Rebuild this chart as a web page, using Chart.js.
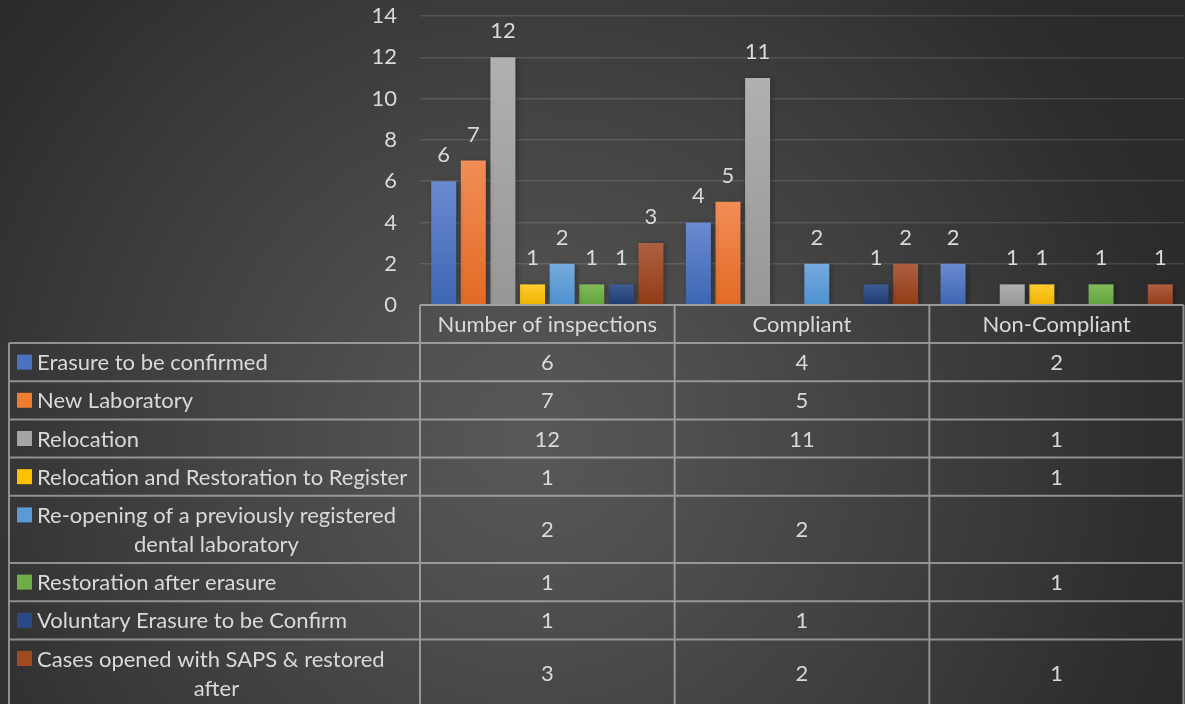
<!DOCTYPE html>
<html>
<head>
<meta charset="utf-8">
<script src="https://cdn.jsdelivr.net/npm/chart.js@4.4.1/dist/chart.umd.min.js"></script>
<style>
html,body{margin:0;padding:0;background:#2b2b2b;overflow:hidden}
#wrap{position:relative;width:1185px;height:704px}
canvas{display:block}
</style>
</head>
<body>
<div id="wrap"><canvas id="c" width="1185" height="704"></canvas></div>
<script>
// ---------- DATA ----------
const categories = ['Number of inspections', 'Compliant', 'Non-Compliant'];

const seriesNames = [
  ['Erasure to be confirmed'],
  ['New Laboratory'],
  ['Relocation'],
  ['Relocation and Restoration to Register'],
  ['Re-opening of a previously registered', 'dental laboratory'],
  ['Restoration after erasure'],
  ['Voluntary Erasure to be Confirm'],
  ['Cases opened with SAPS & restored', 'after']
];

const erasureToBeConfirmed      = [6, 4, 2];
const newLaboratory             = [7, 5, null];
const relocation                = [12, 11, 1];
const relocationAndRestoration  = [1, null, 1];
const reopeningPreviouslyReg    = [2, 2, null];
const restorationAfterErasure   = [1, null, 1];
const voluntaryErasure          = [1, 1, null];
const casesOpenedWithSAPS       = [3, 2, 1];

const seriesValues = [
  erasureToBeConfirmed, newLaboratory, relocation, relocationAndRestoration,
  reopeningPreviouslyReg, restorationAfterErasure, voluntaryErasure, casesOpenedWithSAPS
];

const yMin = 0, yMax = 14, yStep = 2;

// ---------- STYLE ----------
const FONT = 'Lato, "Open Sans", "Noto Sans", sans-serif';
const FS = 22;
const TEXT = '#d9d9d9';
const barColors = [ // [top, bottom, key]
  ['#6a8ad0', '#3e66b3', '#4a72c0'],
  ['#f28d56', '#e36a25', '#ed7d31'],
  ['#b0b0b0', '#979797', '#a5a5a5'],
  ['#ffcd30', '#f0b400', '#ffc000'],
  ['#76abdd', '#4e91cf', '#5b9bd5'],
  ['#82bb5c', '#61a33c', '#70ad47'],
  ['#3e5c94', '#1e3b72', '#2a4a86'],
  ['#ad6041', '#923c16', '#a24a22']
];

Chart.defaults.font.family = FONT;

const bgPlugin = {
  id: 'bg',
  beforeDraw(chart) {
    const ctx = chart.ctx, W = chart.width, H = chart.height;
    ctx.save();
    const g = ctx.createRadialGradient(530, 440, 0, 530, 440, 720);
    g.addColorStop(0, '#585858');
    g.addColorStop(0.2, '#505050');
    g.addColorStop(0.5, '#414141');
    g.addColorStop(0.68, '#383838');
    g.addColorStop(0.88, '#2d2d2d');
    g.addColorStop(1, '#2a2a2a');
    ctx.fillStyle = g;
    ctx.fillRect(0, 0, W, H);
    ctx.restore();
  }
};

const shadowPlugin = {
  id: 'barShadow',
  beforeDatasetDraw(chart) {
    const ctx = chart.ctx;
    ctx.save();
    ctx.shadowColor = 'rgba(0,0,0,0.35)';
    ctx.shadowBlur = 6;
    ctx.shadowOffsetX = 2;
    ctx.shadowOffsetY = 1;
  },
  afterDatasetDraw(chart) {
    chart.ctx.restore();
  }
};

const valueLabelPlugin = {
  id: 'valueLabels',
  afterDatasetsDraw(chart) {
    const ctx = chart.ctx;
    ctx.save();
    ctx.font = FS + 'px ' + FONT;
    ctx.fillStyle = TEXT;
    ctx.textAlign = 'center';
    ctx.textBaseline = 'alphabetic';
    chart.data.datasets.forEach((ds, di) => {
      const meta = chart.getDatasetMeta(di);
      meta.data.forEach((el, i) => {
        const v = ds.data[i];
        if (v === null || v === undefined) return;
        ctx.fillText(String(v), el.x, el.y - 19);
      });
    });
    ctx.restore();
  }
};

const tablePlugin = {
  id: 'dataTable',
  afterDraw(chart) {
    const ctx = chart.ctx;
    const xs = chart.scales.x;
    const area = chart.chartArea;
    const n = categories.length;
    const colW = (area.right - area.left) / n;
    const bounds = [];
    for (let i = 0; i < n; i++) bounds.push(xs.getPixelForValue(i) - colW / 2);
    bounds.push(xs.getPixelForValue(n - 1) + colW / 2);
    const tableLeft = 9;
    const right = bounds[n] - 0.5;
    const top = area.bottom;
    const headerH = 38;
    const lineH = 29;
    const rowH = seriesNames.map(l => 38.2 + (l.length - 1) * lineH);
    const rowTops = [];
    let y = top + headerH;
    rowH.forEach(h => { rowTops.push(y); y += h; });
    const bottom = y;

    ctx.save();
    ctx.font = FS + 'px ' + FONT;
    ctx.fillStyle = TEXT;
    ctx.textBaseline = 'middle';

    ctx.textAlign = 'center';
    categories.forEach((c, i) => {
      ctx.fillText(c, (bounds[i] + bounds[i + 1]) / 2, top + headerH / 2 + 1);
    });

    seriesNames.forEach((lines, r) => {
      const rt = rowTops[r], h = rowH[r];
      const firstY = rt + h / 2 - (lines.length - 1) * lineH / 2;
      ctx.fillStyle = barColors[r][2];
      ctx.fillRect(17, firstY - 7.5, 15, 15);
      ctx.fillStyle = TEXT;
      lines.forEach((t, k) => {
        if (k === 0) { ctx.textAlign = 'left'; ctx.fillText(t, 37, firstY + 1); }
        else { ctx.textAlign = 'center'; ctx.fillText(t, (tableLeft + bounds[0]) / 2 + 2, firstY + k * lineH + 1); }
      });
      ctx.textAlign = 'center';
      seriesValues[r].forEach((v, i) => {
        if (v === null || v === undefined) return;
        ctx.fillText(String(v), (bounds[i] + bounds[i + 1]) / 2, rt + h / 2 + 1);
      });
    });

    ctx.strokeStyle = 'rgba(200,200,200,0.62)';
    ctx.lineWidth = 2;
    ctx.beginPath();
    ctx.moveTo(bounds[0], top); ctx.lineTo(right, top);
    rowTops.forEach(t => { ctx.moveTo(tableLeft, t); ctx.lineTo(right, t); });
    ctx.moveTo(tableLeft, bottom); ctx.lineTo(right, bottom);
    ctx.moveTo(tableLeft, rowTops[0]); ctx.lineTo(tableLeft, bottom);
    bounds.forEach((b, i) => {
      const bx = i === n ? right : b;
      ctx.moveTo(bx, top); ctx.lineTo(bx, bottom);
    });
    ctx.stroke();
    ctx.restore();
  }
};

const datasets = seriesNames.map((name, i) => ({
  label: name.join(' '),
  data: seriesValues[i],
  backgroundColor: (c) => {
    const chart = c.chart;
    const ys = chart.scales && chart.scales.y;
    if (!ys || c.type !== 'data' || c.raw == null) return barColors[i][2];
    const t = ys.getPixelForValue(c.raw), b = ys.getPixelForValue(0);
    if (!isFinite(t) || !isFinite(b) || b - t < 1) return barColors[i][2];
    const g = chart.ctx.createLinearGradient(0, t, 0, b);
    g.addColorStop(0, barColors[i][0]);
    g.addColorStop(1, barColors[i][1]);
    return g;
  },
  borderWidth: 0
}));

new Chart(document.getElementById('c'), {
  type: 'bar',
  data: { labels: categories, datasets },
  options: {
    responsive: false,
    animation: false,
    events: [],
    layout: { padding: { top: 16, right: 1, bottom: 399, left: 0 } },
    datasets: { bar: { categoryPercentage: 0.93, barPercentage: 0.845 } },
    plugins: { legend: { display: false }, tooltip: { enabled: false }, title: { display: false } },
    scales: {
      x: { display: false, offset: true },
      y: {
        min: yMin, max: yMax,
        ticks: { stepSize: yStep, color: TEXT, font: { size: FS, family: FONT }, padding: 23 },
        grid: { color: 'rgba(255,255,255,0.12)', lineWidth: 1.5, drawTicks: false },
        border: { display: false },
        afterFit(s) { s.width = 420; s.paddingTop = 0; s.paddingBottom = 0; }
      }
    }
  },
  plugins: [bgPlugin, shadowPlugin, valueLabelPlugin, tablePlugin]
});
</script>
</body>
</html>
